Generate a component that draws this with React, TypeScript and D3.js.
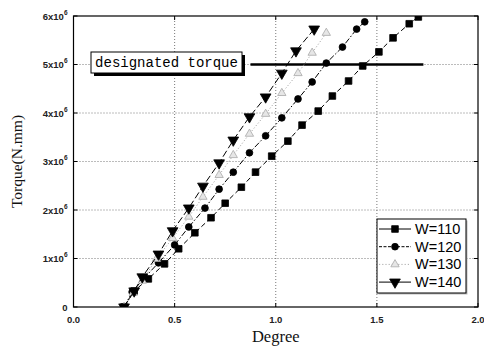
import { useEffect, useRef } from "react";
import * as d3 from "d3";

type Pt = { deg: number; torque: number };

// values (torque in N.mm)
const w110: Pt[] = [
  [0.25, 0], [0.3, 0.33], [0.37, 0.58], [0.45, 0.89], [0.52, 1.2], [0.6, 1.53],
  [0.68, 1.84], [0.75, 2.14], [0.83, 2.47], [0.9, 2.78], [0.98, 3.11], [1.06, 3.42],
  [1.13, 3.75], [1.21, 4.04], [1.28, 4.35], [1.36, 4.66], [1.43, 4.97], [1.51, 5.26],
  [1.58, 5.55], [1.66, 5.84], [1.705, 5.98],
].map(([deg, t]) => ({ deg, torque: t * 1e6 }));

const w120: Pt[] = [
  [0.25, 0], [0.29, 0.31], [0.35, 0.6], [0.42, 0.91], [0.5, 1.28], [0.57, 1.65],
  [0.65, 2.04], [0.72, 2.43], [0.79, 2.78], [0.87, 3.18], [0.95, 3.53], [1.03, 3.9],
  [1.11, 4.29], [1.18, 4.64], [1.25, 5.03], [1.33, 5.36], [1.4, 5.73], [1.44, 5.88],
].map(([deg, t]) => ({ deg, torque: t * 1e6 }));

const w130: Pt[] = [
  [0.25, 0], [0.295, 0.29], [0.34, 0.54], [0.41, 0.99], [0.49, 1.42], [0.57, 1.86],
  [0.64, 2.27], [0.72, 2.72], [0.79, 3.13], [0.87, 3.57], [0.95, 3.98], [1.03, 4.41],
  [1.11, 4.82], [1.18, 5.24], [1.25, 5.65],
].map(([deg, t]) => ({ deg, torque: t * 1e6 }));

const w140: Pt[] = [
  [0.25, 0], [0.3, 0.33], [0.34, 0.62], [0.42, 1.09], [0.49, 1.57], [0.57, 2.04],
  [0.64, 2.49], [0.72, 2.97], [0.79, 3.44], [0.87, 3.92], [0.95, 4.33], [1.03, 4.82],
  [1.1, 5.28], [1.19, 5.73],
].map(([deg, t]) => ({ deg, torque: t * 1e6 }));

const xTicks = [0, 0.5, 1.0, 1.5, 2.0];
const xTickLabels = ["0.0", "0.5", "1.0", "1.5", "2.0"];
const yTicks = [0, 1e6, 2e6, 3e6, 4e6, 5e6, 6e6];
const yTickMantissa = ["0", "1", "2", "3", "4", "5", "6"];

const designatedTorque = 5e6;
const designatedRange = [0.875, 1.73];

const seriesList = [
  { label: "W=110", data: w110, symbol: d3.symbolSquare, size: 44, rot: 0, fill: "#000", stroke: "#000", line: "#000", dash: "5,3" },
  { label: "W=120", data: w120, symbol: d3.symbolCircle, size: 36, rot: 0, fill: "#000", stroke: "#000", line: "#000", dash: "6,2,1.5,2" },
  { label: "W=130", data: w130, symbol: d3.symbolTriangle, size: 30, rot: 0, fill: "#e6e6e6", stroke: "#a8a8a8", line: "#aaa", dash: "1.2,2" },
  { label: "W=140", data: w140, symbol: d3.symbolTriangle, size: 50, rot: 180, fill: "#000", stroke: "#000", line: "#000", dash: "7,3" },
];

const App = () => {
  const svgRef = useRef<SVGSVGElement | null>(null);

  useEffect(() => {
    if (!svgRef.current) return;
    const width = 484;
    const height = 349;
    const margin = { top: 16, right: 6, bottom: 42, left: 73.5 };

    const svg = d3.select(svgRef.current);
    svg.selectAll("*").remove();
    svg.attr("viewBox", `0 0 ${width} ${height}`);

    svg.append("rect").attr("width", width).attr("height", height).attr("fill", "#fff");

    const x = d3.scaleLinear().domain([0, 2]).range([margin.left, width - margin.right]);
    const y = d3.scaleLinear().domain([0, 6e6]).range([height - margin.bottom, margin.top]);
    const [x0, x1] = x.range();
    const [y0, y1] = y.range();

    // grid
    const grid = svg.append("g").attr("stroke", "#555").attr("stroke-width", 0.8).attr("stroke-dasharray", "1,2");
    xTicks.slice(1, -1).forEach((t) => {
      grid.append("line").attr("x1", x(t)).attr("x2", x(t)).attr("y1", y0).attr("y2", y1);
    });
    yTicks.slice(1, -1).forEach((t) => {
      grid.append("line").attr("x1", x0).attr("x2", x1).attr("y1", y(t)).attr("y2", y(t));
    });

    // frame
    svg.append("rect")
      .attr("x", x0).attr("y", y1).attr("width", x1 - x0).attr("height", y0 - y1)
      .attr("fill", "none").attr("stroke", "#000").attr("stroke-width", 1.2);

    // inward ticks on all sides
    const ticks = svg.append("g").attr("stroke", "#000").attr("stroke-width", 1);
    xTicks.forEach((t) => {
      ticks.append("line").attr("x1", x(t)).attr("x2", x(t)).attr("y1", y0).attr("y2", y0 - 4);
      ticks.append("line").attr("x1", x(t)).attr("x2", x(t)).attr("y1", y1).attr("y2", y1 + 4);
    });
    yTicks.forEach((t) => {
      ticks.append("line").attr("x1", x0).attr("x2", x0 + 4).attr("y1", y(t)).attr("y2", y(t));
      ticks.append("line").attr("x1", x1).attr("x2", x1 - 4).attr("y1", y(t)).attr("y2", y(t));
    });

    // tick labels
    xTicks.forEach((t, i) => {
      svg.append("text")
        .attr("x", x(t)).attr("y", y0 + 16)
        .attr("text-anchor", "middle")
        .attr("font-family", "Liberation Sans, Arial, sans-serif")
        .attr("font-size", 9.5).attr("font-weight", "bold").attr("fill", "#222")
        .text(xTickLabels[i]);
    });
    yTicks.forEach((t, i) => {
      const txt = svg.append("text")
        .attr("x", x0 - 6).attr("y", y(t) + 3.5)
        .attr("text-anchor", "end")
        .attr("font-family", "Liberation Sans, Arial, sans-serif")
        .attr("font-size", 9.5).attr("font-weight", "bold").attr("fill", "#222");
      if (t === 0) {
        txt.text("0");
      } else {
        txt.append("tspan").text(`${yTickMantissa[i]}x10`);
        txt.append("tspan").attr("dy", -5).attr("font-size", 6.5).text("6");
      }
    });

    // axis titles
    svg.append("text")
      .attr("x", (x0 + x1) / 2).attr("y", 342)
      .attr("text-anchor", "middle")
      .attr("font-family", "Liberation Serif, Times New Roman, serif")
      .attr("font-size", 16.5).attr("fill", "#111")
      .text("Degree");
    svg.append("text")
      .attr("transform", `translate(22, ${(y0 + y1) / 2}) rotate(-90)`)
      .attr("text-anchor", "middle")
      .attr("font-family", "Liberation Serif, Times New Roman, serif")
      .attr("font-size", 15.5).attr("fill", "#111")
      .text("Torque(N.mm)");

    // clip
    svg.append("clipPath").attr("id", "plot-clip")
      .append("rect").attr("x", x0).attr("y", y1).attr("width", x1 - x0).attr("height", y0 - y1);

    // designated torque line
    svg.append("line")
      .attr("x1", x(designatedRange[0])).attr("x2", x(designatedRange[1]))
      .attr("y1", y(designatedTorque)).attr("y2", y(designatedTorque))
      .attr("stroke", "#000").attr("stroke-width", 2.6);

    const plot = svg.append("g").attr("clip-path", "url(#plot-clip)");
    const line = d3.line<Pt>().x((d) => x(d.deg)).y((d) => y(d.torque));

    seriesList.forEach((s) => {
      plot.append("path")
        .datum(s.data)
        .attr("fill", "none")
        .attr("stroke", s.line)
        .attr("stroke-width", 1)
        .attr("stroke-dasharray", s.dash)
        .attr("d", line);
      const sym = d3.symbol().type(s.symbol).size(s.size);
      plot.selectAll(null)
        .data(s.data)
        .join("path")
        .attr("d", sym)
        .attr("transform", (d) => `translate(${x(d.deg)},${y(d.torque)}) rotate(${s.rot})`)
        .attr("fill", s.fill)
        .attr("stroke", s.stroke)
        .attr("stroke-width", 0.8);
    });

    // designated torque label box
    const bx = 91, by = 52, bw = 151, bh = 21;
    svg.append("rect").attr("x", bx + 3).attr("y", by + 3).attr("width", bw).attr("height", bh).attr("fill", "#000");
    svg.append("rect").attr("x", bx).attr("y", by).attr("width", bw).attr("height", bh)
      .attr("fill", "#fff").attr("stroke", "#000").attr("stroke-width", 1);
    svg.append("text")
      .attr("x", bx + bw / 2).attr("y", by + 15)
      .attr("text-anchor", "middle")
      .attr("font-family", "Liberation Mono, Courier New, monospace")
      .attr("font-size", 14).attr("fill", "#000")
      .text("designated torque");

    // legend
    const lg = svg.append("g").attr("transform", "translate(377, 219)");
    lg.append("rect").attr("x", 1.5).attr("y", 1.5).attr("width", 89).attr("height", 74).attr("fill", "#bbb");
    lg.append("rect").attr("width", 89).attr("height", 74)
      .attr("fill", "#fff").attr("stroke", "#000").attr("stroke-width", 1);
    seriesList.forEach((s, i) => {
      const ly = 10 + i * 17.7;
      lg.append("line").attr("x1", 2).attr("x2", 34).attr("y1", ly).attr("y2", ly)
        .attr("stroke", s.line).attr("stroke-width", 1)
        .attr("stroke-dasharray", s.label === "W=130" ? s.dash : s.label === "W=120" ? "3,1.5" : null);
      lg.append("path")
        .attr("d", d3.symbol().type(s.symbol).size(s.size)())
        .attr("transform", `translate(18,${ly}) rotate(${s.rot})`)
        .attr("fill", s.fill).attr("stroke", s.stroke).attr("stroke-width", 0.8);
      lg.append("text")
        .attr("x", 38).attr("y", ly + 5)
        .attr("font-family", "Liberation Sans, Arial, sans-serif")
        .attr("font-size", 14.5).attr("fill", "#000")
        .text(s.label);
    });
  }, []);

  return (
    <svg
      ref={svgRef}
      width={484}
      height={349}
      style={{ position: "absolute", left: 0, top: 0 }}
    />
  );
};

export default App;
